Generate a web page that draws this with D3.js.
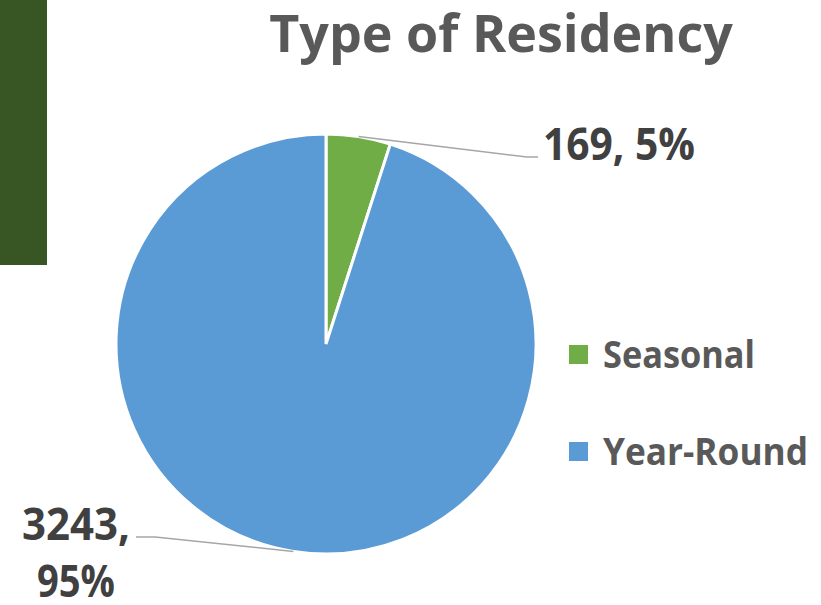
<!DOCTYPE html>
<html>
<head>
<meta charset="utf-8">
<script src="https://cdn.jsdelivr.net/npm/d3@7"></script>
<style>
  body { margin: 0; background: #fff; }
  svg text { font-family: "Open Sans", Lato, sans-serif; font-weight: bold; }
</style>
</head>
<body>
<svg id="chart" width="821" height="605"></svg>
<script>
var categories = ["Seasonal", "Year-Round"];
var values = [169, 3243];
var percents = ["5%", "95%"];
var colors = ["#70AD47", "#5B9BD5"];

var svg = d3.select("#chart");
var cx = 326, cy = 344, radius = 210;

// dark green band on the left
svg.append("rect")
    .attr("x", 0).attr("y", 0)
    .attr("width", 47).attr("height", 265)
    .attr("fill", "#375623");

var title = svg.append("text")
    .attr("x", 501).attr("y", 52)
    .attr("text-anchor", "middle")
    .attr("font-size", 52)
    .attr("fill", "#595959")
    .text("Type of Residency");
// squeeze to the reference width
if (title.node().getComputedTextLength() > 473) {
  title.attr("textLength", 473).attr("lengthAdjust", "spacingAndGlyphs");
}

var pie = d3.pie().sort(null).value(function(d) { return d; });
var arc = d3.arc().innerRadius(0).outerRadius(radius);
var arcs = pie(values);

var g = svg.append("g").attr("transform", "translate(" + cx + "," + cy + ")");
g.selectAll("path")
    .data(arcs)
  .enter().append("path")
    .attr("d", arc)
    .attr("fill", function(d, i) { return colors[i]; })
    .attr("stroke", "#fff")
    .attr("stroke-width", 3);

// leader lines: start on the slice edge, bend, then a short horizontal
function edgePoint(d, frac) {
  var a = d.startAngle + (d.endAngle - d.startAngle) * frac;
  return [Math.sin(a) * radius, -Math.cos(a) * radius];
}
var p0 = edgePoint(arcs[0], 0.5);
var p1 = edgePoint(arcs[1], 0.5);
var leaders = [
  [[p0[0], p0[1]], [527 - cx, 157 - cy], [538 - cx, 157 - cy]],
  [[p1[0], p1[1]], [155 - cx, 537 - cy], [136 - cx, 537 - cy]]
];
g.selectAll("polyline")
    .data(leaders)
  .enter().append("polyline")
    .attr("points", function(d) { return d.map(function(p) { return p.join(","); }).join(" "); })
    .attr("fill", "none")
    .attr("stroke", "#A6A6A6")
    .attr("stroke-width", 1.5);

function fit(sel, w) {
  if (sel.node().getComputedTextLength() > w) {
    sel.attr("textLength", w).attr("lengthAdjust", "spacingAndGlyphs");
  }
  return sel;
}

fit(svg.append("text")
    .attr("x", 543).attr("y", 160)
    .attr("font-size", 44)
    .attr("fill", "#404040")
    .text(values[0] + ", " + percents[0]), 152);

var lbl = svg.append("text")
    .attr("text-anchor", "middle")
    .attr("font-size", 44)
    .attr("fill", "#404040");
fit(lbl.append("tspan").attr("x", 76).attr("y", 540).text(values[1] + ","), 108);
fit(lbl.append("tspan").attr("x", 76).attr("y", 597).text(percents[1]), 78);

// legend
var legend = svg.selectAll(".legend")
    .data(categories)
  .enter().append("g")
    .attr("class", "legend")
    .attr("transform", function(d, i) { return "translate(569," + (345 + i * 97) + ")"; });
legend.append("rect")
    .attr("width", 19).attr("height", 19)
    .attr("fill", function(d, i) { return colors[i]; });
var legendWidths = [152, 205];
legend.append("text")
    .attr("x", 34).attr("y", 23)
    .attr("font-size", 38)
    .attr("fill", "#595959")
    .text(function(d) { return d; })
    .each(function(d, i) { fit(d3.select(this), legendWidths[i]); });
</script>
</body>
</html>
